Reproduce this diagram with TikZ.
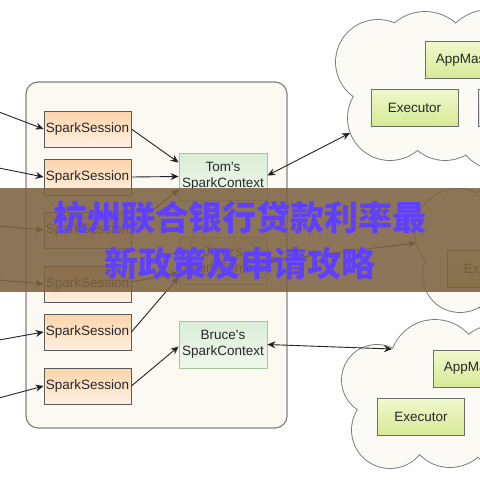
\documentclass[tikz,border=0pt]{standalone}
\usepackage{fontspec}
\setmainfont{Liberation Sans}
\newfontfamily\cjk{Noto Sans CJK SC}
\usetikzlibrary{arrows.meta}
\definecolor{txt}{RGB}{40,40,40}
\definecolor{boxline}{RGB}{90,90,90}
\definecolor{sessTop}{RGB}{252,212,170}
\definecolor{sessBot}{RGB}{255,240,226}
\definecolor{ctxline}{RGB}{160,200,155}
\definecolor{ctxTop}{RGB}{218,238,214}
\definecolor{ctxBot}{RGB}{240,248,236}
\definecolor{exeline}{RGB}{110,110,110}
\definecolor{exeTop}{RGB}{240,248,205}
\definecolor{exeBot}{RGB}{214,234,150}
\definecolor{arrc}{RGB}{35,35,35}
\definecolor{contfill}{RGB}{252,249,242}
\definecolor{contline}{RGB}{130,130,130}
\definecolor{cloudfill}{RGB}{251,250,245}
\definecolor{cloudline}{RGB}{120,120,120}
\definecolor{bannerc}{RGB}{125,98,65}
\definecolor{bannertext}{RGB}{96,64,255}
\begin{document}
\begin{tikzpicture}[x=1pt,y=-1pt,
  every node/.style={font=\fontsize{13.5}{15}\selectfont, text=txt},
  sess/.style={draw=boxline, line width=0.8pt, top color=sessTop, bottom color=sessBot,
    minimum width=87pt, minimum height=36pt, inner sep=0pt},
  ctx/.style={draw=ctxline, line width=0.8pt, top color=ctxTop, bottom color=ctxBot,
    minimum width=88pt, minimum height=47pt, inner sep=0pt, align=center,
    font=\fontsize{13.5}{16}\selectfont},
  exe/.style={draw=exeline, line width=0.8pt, top color=exeTop, bottom color=exeBot,
    minimum width=87pt, minimum height=37pt, inner sep=0pt},
  arr/.style={draw=arrc, line width=0.9pt, -{Stealth[length=8pt,width=7pt]}},
  darr/.style={draw=arrc, line width=0.9pt, {Stealth[length=8pt,width=7pt]}-{Stealth[length=8pt,width=7pt]}},
  cloudedge/.style={draw=cloudline, line width=1.8pt},
  cloudbody/.style={fill=cloudfill},
]
\useasboundingbox (0,0) rectangle (480,480);
\fill[white] (0,0) rectangle (480,480);

% container
\draw[rounded corners=12pt, fill=contfill, draw=contline, line width=1.2pt] (26,82) rectangle (287,428);

% cloud 1
\foreach \cx/\cy/\r in {378/62/42, 425/58/46, 490/60/50, 390/118/42, 445/118/42, 500/125/45}
  \draw[cloudedge] (\cx,\cy) circle[radius=\r];
\foreach \cx/\cy/\r in {378/62/42, 425/58/46, 490/60/50, 390/118/42, 445/118/42, 500/125/45, 430/95/40}
  \fill[cloudbody] (\cx,\cy) circle[radius=\r];
% cloud 2
\foreach \cx/\cy/\r in {458/232/43, 460/275/37, 515/240/60, 505/295/28}
  \draw[cloudedge] (\cx,\cy) circle[radius=\r];
\foreach \cx/\cy/\r in {458/232/43, 460/275/37, 515/240/60, 505/295/28}
  \fill[cloudbody] (\cx,\cy) circle[radius=\r];
% cloud 3
\foreach \cx/\cy/\r in {435/365/45, 377/380/35, 390/430/38, 450/425/42, 505/385/62, 505/430/38}
  \draw[cloudedge] (\cx,\cy) circle[radius=\r];
\foreach \cx/\cy/\r in {435/365/45, 377/380/35, 390/430/38, 450/425/42, 505/385/62, 505/430/38, 430/400/40}
  \fill[cloudbody] (\cx,\cy) circle[radius=\r];

% cloud contents
\node[exe] (am1) at (468.5,60) {AppMaster};
\node[exe] (ex1) at (414.5,107.5) {Executor};
\node[exe] (ex1b) at (521.5,107.5) {Executor};
\node[exe] (ex2) at (490.5,269) {Executor};
\node[exe] (am3) at (476.5,368.5) {AppMaster};
\node[exe] (ex3) at (421,417) {Executor};

\coordinate (c1) at (350,133);
\coordinate (c2) at (416,243);
\coordinate (c3) at (392,349);

% sessions
\node[sess] (s1) at (87.5,129) {SparkSession};
\node[sess] (s2) at (87.5,177) {SparkSession};
\node[sess] (s3) at (87.5,230) {SparkSession};
\node[sess] (s4) at (87.5,284) {SparkSession};
\node[sess] (s5) at (87.5,332) {SparkSession};
\node[sess] (s6) at (87.5,386) {SparkSession};

% contexts
\node[ctx] (tom) at (223,176.5) {Tom\textquotesingle s\\SparkContext};
\node[ctx] (jer) at (223,261) {Jerry\textquotesingle s\\SparkContext};
\node[ctx] (bru) at (223,344.5) {Bruce\textquotesingle s\\SparkContext};

% incoming
\coordinate (i1) at (-1,112);
\coordinate (i2) at (-1,168);
\coordinate (i3) at (-1,226);
\coordinate (i4) at (-1,280);
\coordinate (i5) at (-1,340);
\coordinate (i6) at (-1,398);
\draw[arr] (i1) -- (s1.west);
\draw[arr] (i2) -- (s2.west);
\draw[arr] (i3) -- (s3.west);
\draw[arr] (i4) -- (s4.west);
\draw[arr] (i5) -- (s5.west);
\draw[arr] (i6) -- (s6.west);

% sessions to contexts
\draw[arr] (s1.east) -- ([yshift=14pt]tom.west);
\draw[arr] (s2.east) -- (tom.west);
\draw[arr] ([yshift=2pt]s3.east) -- ([yshift=-13pt]tom.west);
\draw[arr] ([yshift=2pt]s4.east) -- ([yshift=-12pt]jer.west);
\draw[arr] (s5.east) -- ([yshift=-16pt]jer.west);
\draw[arr] (s6.east) -- ([yshift=-2pt]bru.west);

% contexts to clouds
\draw[darr] ([yshift=1pt]tom.east) -- (c1);
\draw[darr] (jer.east) -- (c2);
\draw[darr] (bru.east) -- (c3);

% banner overlay
\fill[bannerc, opacity=0.88] (0,188) rectangle (480,292);
\node[text=bannertext, font=\cjk\bfseries\fontsize{34}{34}\selectfont, inner sep=0pt] (b1) at (240,218) {杭州联合银行贷款利率最};
\node[text=bannertext, font=\cjk\bfseries\fontsize{34}{34}\selectfont, inner sep=0pt] (b2) at (240,263) {新政策及申请攻略};
\end{tikzpicture}
\end{document}
